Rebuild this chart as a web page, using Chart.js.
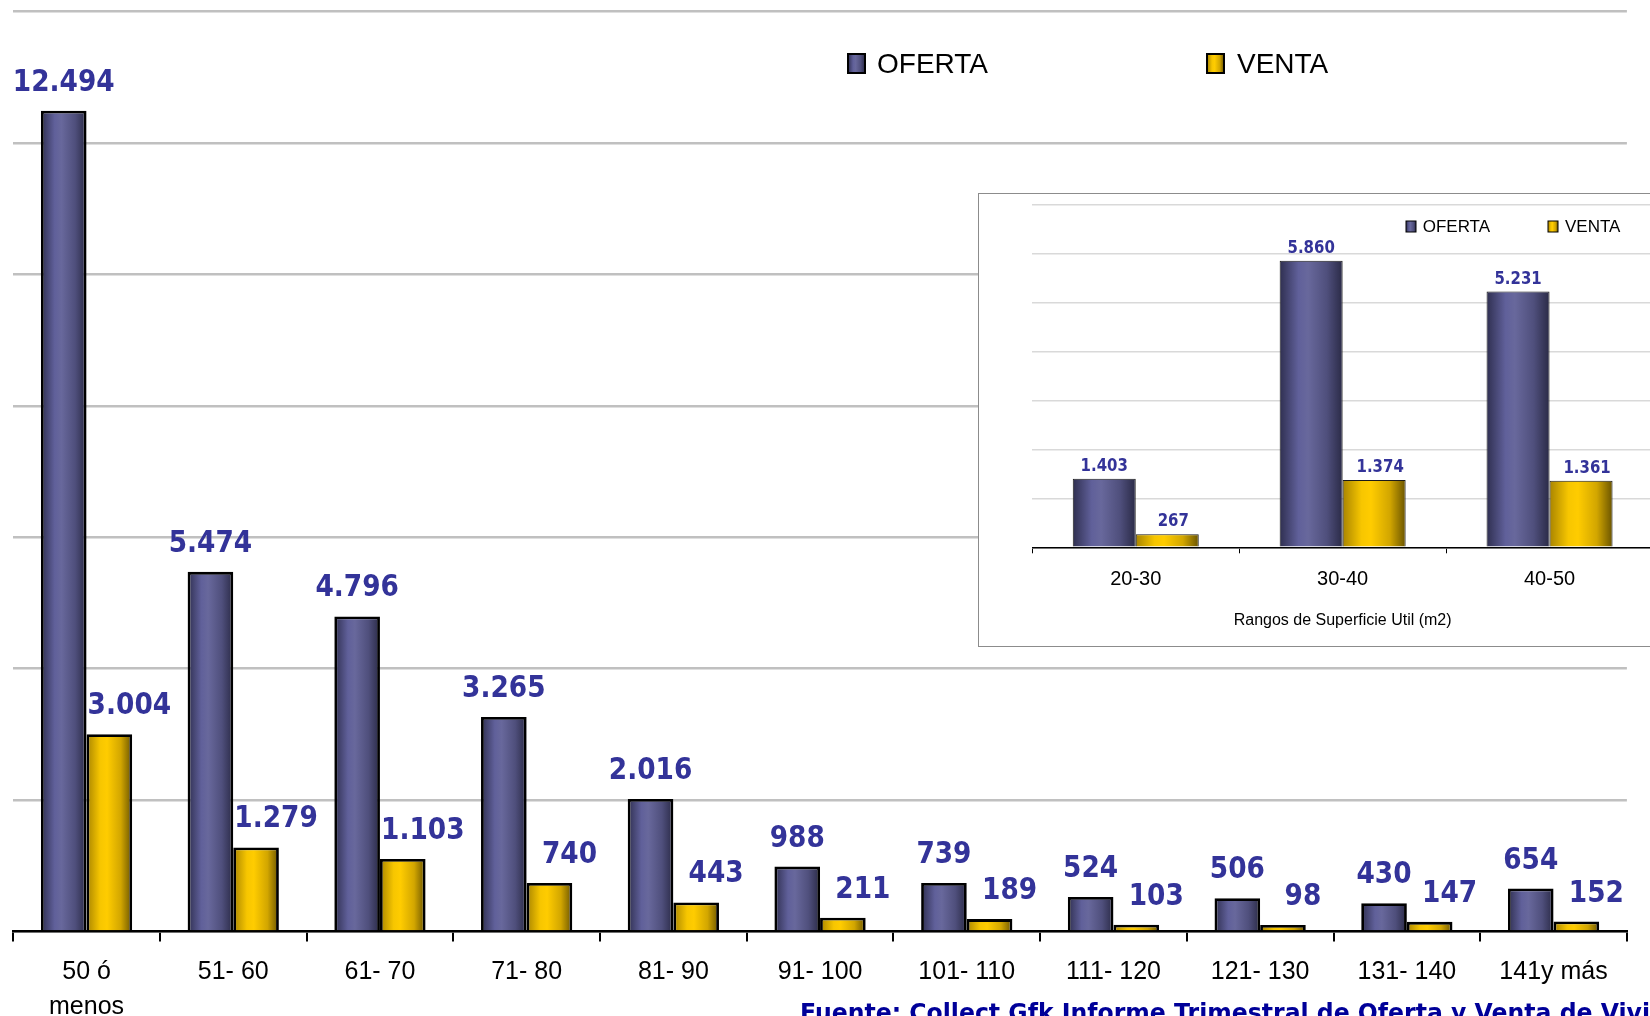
<!DOCTYPE html>
<html>
<head>
<meta charset="utf-8">
<script src="https://cdn.jsdelivr.net/npm/chart.js@4.4.1/dist/chart.umd.min.js"></script>
<style>
  html, body { margin: 0; padding: 0; background: #fff; overflow: hidden; width: 1650px; height: 1016px; }
  #mainChart { position: absolute; left: 0; top: 0; display: block; }
  #insetBox { position: absolute; left: 978px; top: 193px; border: 1px solid #8c8c8c; background: #fff; }
  #insetChart { display: block; }
</style>
</head>
<body>
<canvas id="mainChart" width="1650" height="1016"></canvas>
<div id="insetBox"><canvas id="insetChart" width="700" height="452"></canvas></div>
<script>
// --- Data
const mainCategories = [['50 ó', 'menos'], '51- 60', '61- 70', '71- 80', '81- 90', '91- 100',
                        '101- 110', '111- 120', '121- 130', '131- 140', '141y más'];
const mainOferta = [12494, 5474, 4796, 3265, 2016, 988, 739, 524, 506, 430, 654];
const mainVenta  = [3004, 1279, 1103, 740, 443, 211, 189, 103, 98, 147, 152];

const insetCategories = ['20-30', '30-40', '40-50'];
const insetOferta = [1403, 5860, 5231];
const insetVenta  = [267, 1374, 1361];

const seriesNames = ['OFERTA', 'VENTA'];
const sourceText = 'Fuente: Collect Gfk Informe Trimestral de Oferta y Venta de Viviendas';

// --- Styles
const labelColor = '#333399';
const ofertaStops = [[0, '#2f2f50'], [0.3, '#60609a'], [0.45, '#68689c'], [0.75, '#4f4f7c'], [1, '#2a2a46']];
const ventaStops  = [[0, '#a88400'], [0.3, '#f7c600'], [0.45, '#ffcc00'], [0.75, '#d2a600'], [1, '#6a5400']];
const allStops = [ofertaStops, ventaStops];

function fmt(v) {
    return String(v).replace(/\B(?=(\d{3})+(?!\d))/g, '.');
}

function makeGrad(ctx, x0, x1, stops) {
    const g = ctx.createLinearGradient(x0, 0, x1, 0);
    stops.forEach(s => g.addColorStop(s[0], s[1]));
    return g;
}

// gives every bar its own horizontal shading + draws value labels under the bars
function barDecor(opts) {
    return {
        id: 'barDecor',
        beforeDatasetsDraw(chart) {
            const ctx = chart.ctx;
            chart.data.datasets.forEach((ds, di) => {
                const meta = chart.getDatasetMeta(di);
                meta.data.forEach((el, i) => {
                    const l = el.x - el.width / 2, r = el.x + el.width / 2;
                    el.options.backgroundColor = makeGrad(ctx, l, r, allStops[di]);
                    ctx.save();
                    ctx.fillStyle = labelColor;
                    ctx.font = opts.font;
                    ctx.textAlign = 'center';
                    ctx.textBaseline = 'alphabetic';
                    ctx.translate(el.x + opts.dx[di], el.y - opts.gap);
                    ctx.scale(opts.hscale, 1);
                    ctx.fillText(fmt(ds.data[i]), 0, 0);
                    ctx.restore();
                });
            });
        }
    };
}

// legend drawn by hand so it sits where the original has it
function legendDecor(opts) {
    return {
        id: 'legendDecor',
        afterDraw(chart) {
            const ctx = chart.ctx;
            seriesNames.forEach((name, i) => {
                const bx = opts.boxX[i];
                ctx.save();
                ctx.fillStyle = makeGrad(ctx, bx, bx + opts.boxW, allStops[i]);
                ctx.fillRect(bx, opts.boxY, opts.boxW, opts.boxH);
                ctx.lineWidth = opts.boxLine;
                ctx.strokeStyle = '#000';
                ctx.strokeRect(bx, opts.boxY, opts.boxW, opts.boxH);
                ctx.fillStyle = '#000';
                ctx.font = opts.font;
                ctx.textAlign = 'left';
                ctx.textBaseline = 'middle';
                ctx.fillText(name, opts.textX[i], opts.textY);
                ctx.restore();
            });
            if (opts.footer) {
                ctx.save();
                ctx.font = 'bold 24px "DejaVu Sans"';
                ctx.fillStyle = '#000099';
                const w = ctx.measureText('Fuente: Collect Gfk Informe Trimestral de Oferta y Venta de Vivi').width;
                ctx.translate(800, 1021);
                ctx.scale(850 / w, 1);
                ctx.textAlign = 'left';
                ctx.fillText(sourceText, 0, 0);
                ctx.restore();
            }
        }
    };
}

function buildDatasets(oferta, venta, bw, bc) {
    return [oferta, venta].map((d, i) => ({
        label: seriesNames[i],
        data: d,
        backgroundColor: () => allStops[i][2][1],
        borderColor: bc,
        borderWidth: bw,
        borderSkipped: 'bottom'
    }));
}

// --- Main chart
new Chart(document.getElementById('mainChart').getContext('2d'), {
    type: 'bar',
    data: { labels: mainCategories, datasets: buildDatasets(mainOferta, mainVenta, 2.8, '#000') },
    options: {
        responsive: false,
        animation: false,
        layout: { padding: { left: 13.2, right: 23.1, top: 11.7, bottom: 0 } },
        datasets: { bar: { categoryPercentage: 0.622, barPercentage: 1 } },
        scales: {
            x: {
                offset: true,
                afterFit(s) { s.height = 84.5; },
                grid: { offset: true, drawOnChartArea: false, drawTicks: true, tickLength: 10, color: '#000', lineWidth: 2 },
                border: { display: true, color: '#000', width: 2.5 },
                ticks: {
                    autoSkip: false, maxRotation: 0, padding: 13, color: '#000',
                    font: { family: '"Liberation Sans", Arial, sans-serif', size: 25, lineHeight: 1.4 }
                }
            },
            y: {
                min: 0, max: 14000,
                afterFit(s) { s.width = 0; },
                ticks: { stepSize: 2000, display: false },
                grid: { color: '#c0c0c0', lineWidth: 2.5, drawTicks: false },
                border: { display: false }
            }
        },
        plugins: { legend: { display: false }, tooltip: { enabled: false } }
    },
    plugins: [
        barDecor({ font: 'bold 30px "DejaVu Sans"', hscale: 0.88, gap: 20, dx: [0, 20] }),
        legendDecor({
            boxX: [848, 1207], boxY: 54, boxW: 17, boxH: 19, boxLine: 2,
            textX: [877, 1237], textY: 65, font: '28px "Liberation Sans", Arial, sans-serif',
            footer: true
        })
    ]
});

// --- Inset chart
new Chart(document.getElementById('insetChart').getContext('2d'), {
    type: 'bar',
    data: { labels: insetCategories, datasets: buildDatasets(insetOferta, insetVenta, 1, '#1a1a1a') },
    options: {
        responsive: false,
        animation: false,
        layout: { padding: { left: 53.3, right: 26, top: 11, bottom: 0 } },
        datasets: { bar: { categoryPercentage: 0.609, barPercentage: 1 } },
        scales: {
            x: {
                offset: true,
                afterFit(s) { s.height = 98.7; },
                grid: { offset: true, drawOnChartArea: false, drawTicks: true, tickLength: 6, color: '#000', lineWidth: 1 },
                border: { display: true, color: '#000', width: 1.5 },
                ticks: {
                    autoSkip: false, maxRotation: 0, padding: 14.4, color: '#000',
                    font: { family: '"Liberation Sans", Arial, sans-serif', size: 20, lineHeight: 1.2 }
                },
                title: {
                    display: true, text: 'Rangos de Superficie Util (m2)', color: '#000',
                    font: { family: '"Liberation Sans", Arial, sans-serif', size: 16, lineHeight: 1.2 },
                    padding: { top: 0, bottom: 15.4 }
                }
            },
            y: {
                min: 0, max: 7000,
                afterFit(s) { s.width = 0; },
                ticks: { stepSize: 1000, display: false },
                grid: { color: '#d9d9d9', lineWidth: 1.5, drawTicks: false },
                border: { display: false }
            }
        },
        plugins: { legend: { display: false }, tooltip: { enabled: false } }
    },
    plugins: [
        barDecor({ font: 'bold 17px "DejaVu Sans"', hscale: 0.88, gap: 8, dx: [0, 6] }),
        legendDecor({
            boxX: [427, 569], boxY: 27, boxW: 10, boxH: 11, boxLine: 1,
            textX: [443.7, 586], textY: 33, font: '17px "Liberation Sans", Arial, sans-serif',
            footer: false
        })
    ]
});
</script>
</body>
</html>
